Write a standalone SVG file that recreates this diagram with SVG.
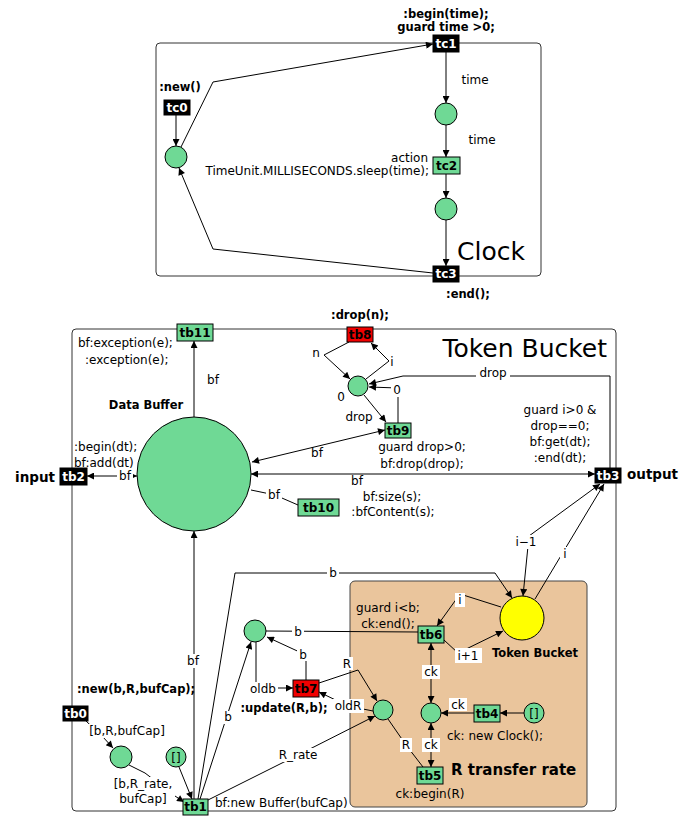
<svg xmlns="http://www.w3.org/2000/svg" width="695" height="817" viewBox="0 0 695 817">
<style>
text{font-family:"DejaVu Sans","Liberation Sans",sans-serif;font-size:12px;fill:#000}
.b{font-weight:bold;font-size:11.5px}
.c{text-anchor:middle}
.e{text-anchor:end}
.big{font-size:25px}
.nk{fill:#000;stroke:#000;stroke-width:1}
.ng{fill:#6fd995;stroke:#000;stroke-width:1}
.nr{fill:#f00000;stroke:#000;stroke-width:1}
.nt{font-weight:bold;font-size:12px;text-anchor:middle}
.wt{fill:#fff}
.pl{fill:#6fd995;stroke:#000;stroke-width:1}
.box{fill:none;stroke:#333;stroke-width:1}
.cn path,.cn line,.cn polyline{fill:none;stroke:#000;stroke-width:1}
.arr{marker-end:url(#ah)}
.arr2{marker-end:url(#ah);marker-start:url(#ah)}
.lb{fill:#fff}
</style>
<defs>
<marker id="ah" viewBox="0 0 10 10" refX="10" refY="5" markerWidth="9" markerHeight="7" markerUnits="userSpaceOnUse" orient="auto-start-reverse">
<path d="M0,0 L10,5 L0,10 z" fill="#000"/>
</marker>
</defs>

<!-- containers -->
<rect class="box" x="156" y="43" width="385" height="233" rx="4"/>
<text class="big" x="457" y="260">Clock</text>
<rect class="box" x="72" y="329" width="544" height="482" rx="4"/>
<text class="big" x="607" y="357" text-anchor="end">Token Bucket</text>
<rect x="350" y="581" width="237" height="226" rx="5" fill="#eac59c" stroke="#444" stroke-width="1"/>

<g class="cn" id="connectors">
<!-- clock -->
<line class="arr" x1="176" y1="115" x2="176" y2="146"/>
<polyline class="arr" points="181,147 213,82 433,44"/>
<polyline class="arr" points="433,273 213,249 179,168"/>
<line class="arr" x1="446" y1="52" x2="446" y2="103"/>
<line class="arr" x1="446" y1="125" x2="446" y2="157"/>
<line class="arr" x1="446" y1="174" x2="446" y2="198"/>
<line class="arr" x1="446" y1="220" x2="446" y2="266"/>
<!-- token bucket -->
<line class="arr" x1="194" y1="417" x2="194" y2="341"/>
<line class="arr2" x1="137" y1="476" x2="87" y2="476"/>
<line class="arr2" x1="251" y1="474" x2="595" y2="474"/>
<line class="arr2" x1="252" y1="462" x2="385" y2="430"/>
<polyline points="251,490 275,495 298,505"/>
<polyline class="arr" points="366,379 389,361 371,343"/>
<polyline class="arr" points="349,342 324,355 350,379"/>
<line class="arr" x1="364" y1="395" x2="386" y2="422"/>
<polyline class="arr" points="398,423 398,388 369,387"/>
<polyline class="arr" points="610,468 610,376 403,376 369,384"/>
<line class="arr" x1="535" y1="599" x2="604" y2="484"/>
<polyline class="arr2" points="600,484 529,536 523,596"/>
<polyline class="arr" points="198,799 235,573 495,573 512,598"/>
<polyline class="arr" points="501,607 460,594 437,626"/>
<polyline class="arr" points="444,640 458,653 503,631"/>
<line x1="418" y1="632" x2="266" y2="631"/>
<polyline class="arr" points="306,680 306,655 267,637"/>
<polyline class="arr" points="256,642 256,688 293,688"/>
<line class="arr" x1="200" y1="799" x2="251" y2="642"/>
<polyline class="arr" points="319,683 358,670 377,701"/>
<polyline class="arr" points="373,711 348,706 319,692"/>
<polyline class="arr" points="208,800 298,755 375,716"/>
<polyline points="423,767 406,745 388,719"/>
<line class="arr" x1="474" y1="713" x2="441" y2="713"/>
<line class="arr" x1="524" y1="713" x2="500" y2="713"/>
<line class="arr2" x1="431" y1="643" x2="431" y2="703"/>
<line class="arr2" x1="431" y1="723" x2="431" y2="767"/>
<line class="arr" x1="194" y1="799" x2="194" y2="531"/>
<polyline class="arr" points="86,721 103,737 113,748"/>
<polyline class="arr" points="129,765 145,773 175,796 184,802"/>
<line class="arr" x1="179" y1="767" x2="192" y2="799"/>
</g>

<!-- connector labels -->
<g id="labels">
<text x="475" y="84" class="c">time</text>
<text x="482" y="144" class="c">time</text>
<text x="213" y="384" class="c">bf</text>
<rect class="lb" x="117" y="470" width="16" height="12"/><text x="125" y="480" class="c">bf</text>
<text x="357" y="485" class="c">bf</text>
<text x="317" y="457" class="c">bf</text>
<rect class="lb" x="266" y="489" width="16" height="12"/><text x="274" y="499" class="c">bf</text>
<text x="392" y="366" class="c">i</text>
<text x="316" y="357" class="c">n</text>
<text x="341" y="401" class="c">0</text>
<text x="359" y="421" class="c">drop</text>
<rect class="lb" x="391" y="384" width="12" height="13"/><text x="397" y="394" class="c">0</text>
<rect class="lb" x="476" y="368" width="34" height="13"/><text x="493" y="377" class="c">drop</text>
<rect class="lb" x="560" y="547" width="9" height="13"/><text x="565" y="558" class="c">i</text>
<rect class="lb" x="513" y="535" width="26" height="14"/><text x="526" y="546" class="c">i−1</text>
<rect class="lb" x="327" y="566" width="12" height="13"/><text x="333" y="577" class="c">b</text>
<rect class="lb" x="455" y="593" width="10" height="14"/><text x="460" y="604" class="c">i</text>
<rect class="lb" x="455" y="648" width="27" height="15"/><text x="468" y="660" class="c">i+1</text>
<rect class="lb" x="292" y="625" width="12" height="13"/><text x="298" y="636" class="c">b</text>
<rect class="lb" x="297" y="648" width="12" height="13"/><text x="303" y="659" class="c">b</text>
<rect class="lb" x="248" y="682" width="30" height="14"/><text x="263" y="693" class="c">oldb</text>
<rect class="lb" x="222" y="711" width="12" height="13"/><text x="228" y="721" class="c">b</text>
<rect class="lb" x="341" y="657" width="12" height="13"/><text x="347" y="668" class="c">R</text>
<rect class="lb" x="333" y="699" width="31" height="14"/><text x="348" y="710" class="c">oldR</text>
<rect class="lb" x="276" y="748" width="44" height="14"/><text x="298" y="759" class="c">R_rate</text>
<rect class="lb" x="400" y="738" width="12" height="14"/><text x="406" y="749" class="c">R</text>
<rect class="lb" x="449" y="698" width="18" height="13"/><text x="458" y="709" class="c">ck</text>
<rect class="lb" x="422" y="665" width="18" height="14"/><text x="431" y="676" class="c">ck</text>
<rect class="lb" x="422" y="738" width="18" height="14"/><text x="431" y="749" class="c">ck</text>
<rect class="lb" x="185" y="654" width="16" height="14"/><text x="193" y="665" class="c">bf</text>
<rect class="lb" x="87" y="724" width="80" height="14"/><text x="127" y="735" class="c">[b,R,bufCap]</text>
<rect class="lb" x="111" y="777" width="64" height="28"/><text x="143" y="788" class="c">[b,R_rate,</text><text x="143" y="803" class="c">bufCap]</text>
</g>

<!-- annotations -->
<g id="annotations">
<text x="446" y="18" class="b c">:begin(time);</text>
<text x="446" y="31" class="b c">guard time &gt;0;</text>
<text x="180" y="91" class="b c">:new()</text>
<text x="428" y="162" class="e">action</text>
<text x="429" y="175" class="e">TimeUnit.MILLISECONDS.sleep(time);</text>
<text x="468" y="298" class="b c">:end();</text>
<text x="78" y="347">bf:exception(e);</text>
<text x="85" y="364">:exception(e);</text>
<text x="360" y="319" class="b c">:drop(n);</text>
<text x="146" y="409" class="b c">Data Buffer</text>
<text x="74" y="451">:begin(dt);</text>
<text x="74" y="467">bf:add(dt)</text>
<text x="15" y="482" class="b" style="font-size:13.5px">input</text>
<text x="627" y="479" class="b" style="font-size:13.5px">output</text>
<text x="422" y="451" class="c">guard drop&gt;0;</text>
<text x="422" y="468" class="c">bf:drop(drop);</text>
<text x="560" y="414" class="c">guard i&gt;0 &amp;</text>
<text x="560" y="430" class="c">drop==0;</text>
<text x="560" y="446" class="c">bf:get(dt);</text>
<text x="560" y="462" class="c">:end(dt);</text>
<text x="392" y="501" class="c">bf:size(s);</text>
<text x="393" y="516" class="c">:bfContent(s);</text>
<text x="388" y="612" class="c">guard i&lt;b;</text>
<text x="388" y="628" class="c">ck:end();</text>
<text x="492" y="657" class="b">Token Bucket</text>
<text x="447" y="740">ck: new Clock();</text>
<text x="451" y="775" class="b" style="font-size:15px">R transfer rate</text>
<text x="430" y="798" class="c">ck:begin(R)</text>
<text x="284" y="712" class="b c">:update(R,b);</text>
<text x="77" y="693" class="b">:new(b,R,bufCap);</text>
<text x="215" y="807">bf:new Buffer(bufCap)</text>
</g>

<!-- clock nodes -->
<g id="tc0"><rect class="nk" x="164" y="100" width="26" height="15"/><text class="nt wt" x="177" y="112">tc0</text></g>
<g id="pc0"><circle class="pl" cx="176" cy="157" r="11"/></g>
<g id="tc1"><rect class="nk" x="433" y="35" width="26" height="17"/><text class="nt wt" x="446" y="48">tc1</text></g>
<g id="pc1"><circle class="pl" cx="446" cy="114" r="11"/></g>
<g id="tc2"><rect class="ng" x="433" y="157" width="27" height="17"/><text class="nt" x="446.5" y="170">tc2</text></g>
<g id="pc2"><circle class="pl" cx="446" cy="209" r="11"/></g>
<g id="tc3"><rect class="nk" x="433" y="266" width="26" height="16"/><text class="nt wt" x="446" y="278">tc3</text></g>

<!-- token bucket nodes -->
<g id="tb11"><rect class="ng" x="177" y="324" width="36" height="17"/><text class="nt" x="195" y="337">tb11</text></g>
<g id="tb8"><rect class="nr" x="347" y="327" width="26" height="15"/><text class="nt" x="360" y="339">tb8</text></g>
<g id="pdrop"><circle class="pl" cx="358" cy="386" r="10"/></g>
<g id="tb9"><rect class="ng" x="385" y="423" width="26" height="15"/><text class="nt" x="398" y="435">tb9</text></g>
<g id="tb2"><rect class="nk" x="60" y="468" width="27" height="17"/><text class="nt wt" x="73.5" y="481">tb2</text></g>
<g id="tb3"><rect class="nk" x="595" y="468" width="26" height="15"/><text class="nt wt" x="608" y="480">tb3</text></g>
<g id="tb10"><rect class="ng" x="298" y="499" width="41" height="17"/><text class="nt" x="318.5" y="512">tb10</text></g>
<g id="databuffer"><circle class="pl" cx="194" cy="474" r="57"/></g>
<g id="tb0"><rect class="nk" x="63" y="706" width="25" height="15"/><text class="nt wt" x="75.5" y="718">tb0</text></g>
<g id="pinit"><circle class="pl" cx="121" cy="757" r="11"/></g>
<g id="pempty1"><circle class="pl" cx="176" cy="757" r="10"/><text class="c" x="176" y="762">[]</text></g>
<g id="tb1"><rect class="ng" x="183" y="799" width="25" height="16"/><text class="nt" x="195.5" y="811">tb1</text></g>
<g id="pb"><circle class="pl" cx="255" cy="631" r="11"/></g>
<g id="tb7"><rect class="nr" x="293" y="680" width="26" height="17"/><text class="nt" x="306" y="693">tb7</text></g>
<g id="pR"><circle class="pl" cx="383" cy="710" r="10"/></g>
<g id="pck"><circle class="pl" cx="431" cy="713" r="10"/></g>
<g id="tb4"><rect class="ng" x="474" y="705" width="26" height="17"/><text class="nt" x="487" y="718">tb4</text></g>
<g id="pempty2"><circle class="pl" cx="534" cy="713" r="10"/><text class="c" x="534" y="718">[]</text></g>
<g id="tb5"><rect class="ng" x="417" y="767" width="26" height="17"/><text class="nt" x="430" y="780">tb5</text></g>
<g id="tb6"><rect class="ng" x="418" y="626" width="26" height="17"/><text class="nt" x="431" y="639">tb6</text></g>
<g id="tokenbucket"><circle cx="522" cy="618" r="22" fill="#ffff00" stroke="#000" stroke-width="1"/></g>
</svg>
